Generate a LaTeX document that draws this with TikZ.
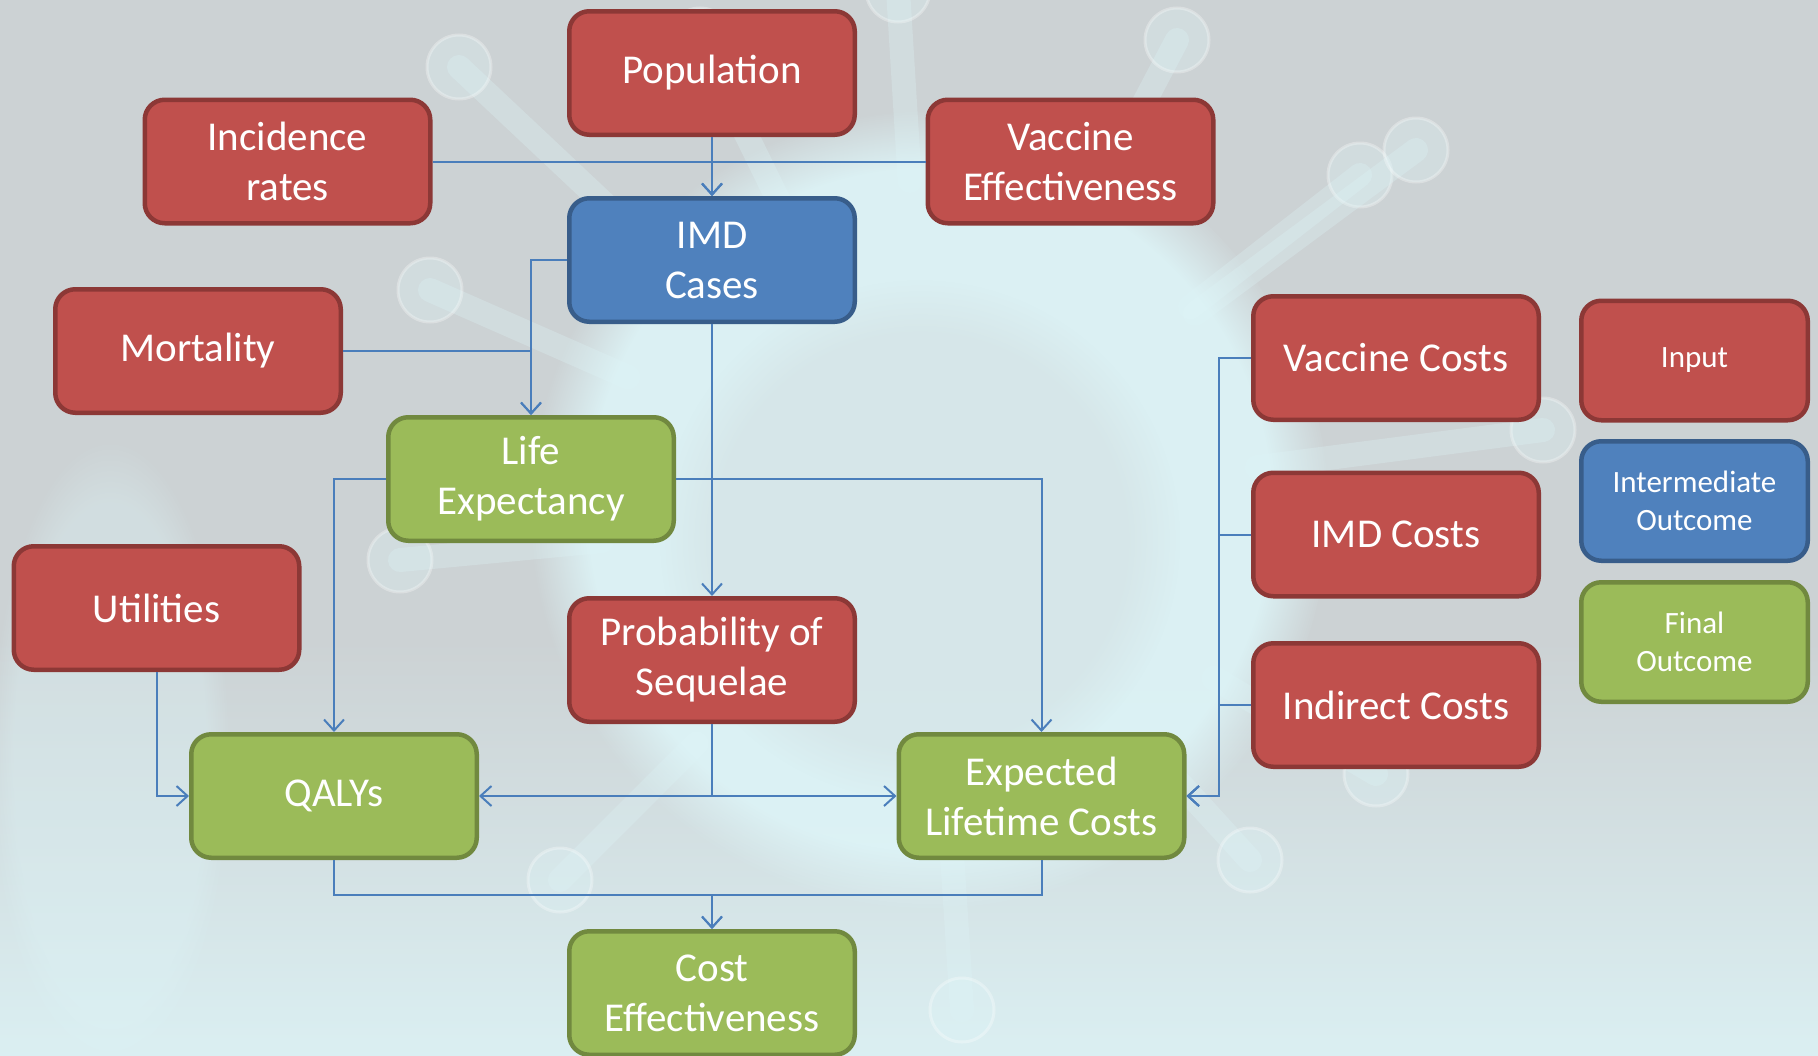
\documentclass[tikz,border=0pt]{standalone}
\usepackage{fontspec}
\setmainfont{Carlito}
\usetikzlibrary{arrows.meta,calc,fadings}

\definecolor{inred}{HTML}{C0504D}
\definecolor{inredline}{HTML}{8C3836}
\definecolor{midblue}{HTML}{4F81BD}
\definecolor{midblueline}{HTML}{385D8A}
\definecolor{fingreen}{HTML}{9BBB59}
\definecolor{fingreenline}{HTML}{71893F}
\definecolor{wire}{HTML}{4A7EBB}
\definecolor{bggray}{HTML}{CCD2D4}
\definecolor{haze}{HTML}{DDF4F7}

\begin{document}
\begin{tikzpicture}[x=1pt,y=-1pt,
  box/.style={rectangle, rounded corners=20pt, line width=4.5pt,
    minimum width=285.5pt, minimum height=123.5pt, inner sep=0pt,
    align=center, text=white, font=\fontsize{41}{50}\selectfont},
  input/.style={box, fill=inred, draw=inredline},
  inter/.style={box, fill=midblue, draw=midblueline},
  final/.style={box, fill=fingreen, draw=fingreenline},
  legendbox/.style={minimum width=226.5pt, minimum height=119.5pt,
    font=\fontsize{31}{38}\selectfont},
  wirearrow/.style={draw=wire, line width=2pt,
    -{Straight Barb[length=11pt,width=20pt]}},
  spike/.style={haze, line width=24pt, line cap=round, opacity=0.3},
  bulb/.style={fill=haze, draw=white, line width=3pt, opacity=0.3},
]

% ---- backdrop: grey field with a pale virus particle ----
\useasboundingbox (0,0) rectangle (1818,1055);
\fill[bggray] (0,0) rectangle (1818,1055);
\shade[top color=bggray, bottom color=haze!85!bggray] (0,640) rectangle (1818,1055);
\fill[haze, opacity=0.35, path fading=circle with fuzzy edge 20 percent]
  (110,760) ellipse (120 and 320);

\coordinate (vc0) at (930,510);
\foreach \bx/\by in {459/67, 898/-10, 1177/40, 1360/175, 1416/150,
                     1543/430, 1376/774, 962/1010, 560/880, 400/560,
                     430/290, 1250/860, 700/40} {
  \draw[spike] ($(vc0)!330pt!(\bx,\by)$) -- (\bx,\by);
  \filldraw[bulb] (\bx,\by) circle (32);
}
\fill[haze, opacity=0.9, path fading=circle with fuzzy edge 15 percent]
  (vc0) circle (400);
\fill[bggray, opacity=0.3, path fading=circle with fuzzy edge 20 percent]
  (920,540) circle (260);

% ---- inputs ----
\node[input] (pop)  at (712,73)      {Population};
\node[input] (inc)  at (287.5,161.5) {Incidence\\rates};
\node[input] (ve)   at (1070.5,161.5){Vaccine\\Effectiveness};
\node[input] (mort) at (198,351)     {Mortality};
\node[input] (util) at (156.5,608)   {Utilities};
\node[input] (prob) at (712,660)     {Probability of\\Sequelae};
\node[input] (vc)   at (1396,358)    {Vaccine Costs};
\node[input] (imdc) at (1396,534.5)  {IMD Costs};
\node[input] (indc) at (1396,705)    {Indirect Costs};

% ---- intermediate and final outcomes ----
\node[inter] (imd)  at (712,260)     {IMD\\Cases};
\node[final] (life) at (531,479)     {Life\\Expectancy};
\node[final] (qaly) at (334,796)     {QALYs};
\node[final] (elc)  at (1041.5,796)  {Expected\\Lifetime Costs};
\node[final] (ce)   at (712,993)     {Cost\\Effectiveness};

% ---- legend ----
\node[input, legendbox] (keyin)  at (1694.5,360.5) {Input};
\node[inter, legendbox] (keymid) at (1694.5,501)   {Intermediate\\Outcome};
\node[final, legendbox] (keyfin) at (1694.5,642)   {Final\\Outcome};

% ---- connectors ----
\draw[wirearrow] (pop.south) -- (imd.north);
\draw[wirearrow] (inc.east) -| (imd.north);
\draw[wirearrow] (ve.west) -| (imd.north);

\draw[wirearrow] (imd.west) -| (life.north);
\draw[wirearrow] (mort.east) -| (life.north);
\draw[wirearrow] (imd.south) -- (prob.north);

\draw[wirearrow] (life.west) -| (qaly.north);
\draw[wirearrow] (life.east) -| (elc.north);

\draw[wirearrow] (util.south) |- (qaly.west);
\draw[wirearrow] (prob.south) |- (qaly.east);
\draw[wirearrow] (prob.south) |- (elc.west);

\coordinate (costbus) at ($(vc.west)!.5!(elc.east)$);
\foreach \src in {vc, imdc, indc}
  \draw[wirearrow] (\src.west) -- (\src.west -| costbus) |- (elc.east);

\coordinate (cerow) at ($(qaly.south)!.5!(ce.north)$);
\draw[wirearrow] (qaly.south) -- (qaly.south |- cerow) -| (ce.north);
\draw[wirearrow] (elc.south) -- (elc.south |- cerow) -| (ce.north);

\end{tikzpicture}
\end{document}
